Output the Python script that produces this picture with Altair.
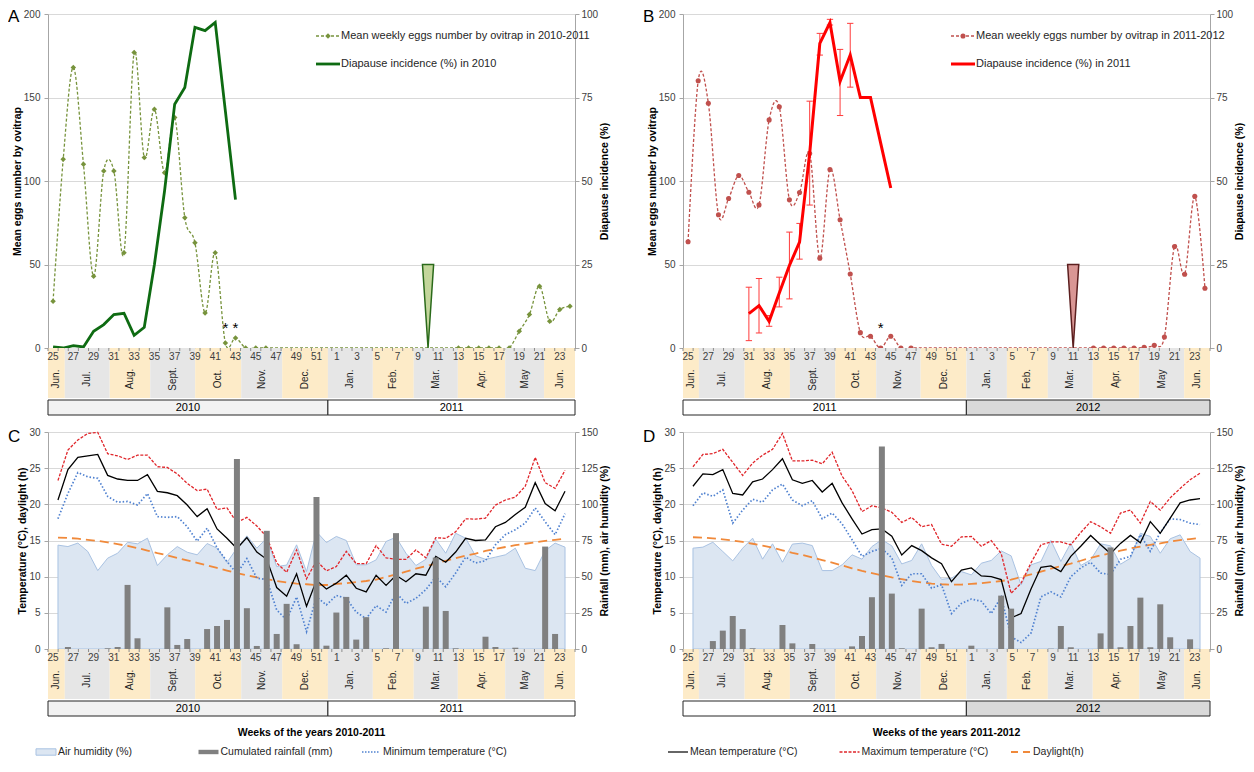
import altair as alt
import pandas as pd

FONT = "Liberation Sans"
PW = 527
H_EGG = 334
H_CLIM = 217
HGAP = 108
AXIS_GREY = "#A6A6A6"
GRID = "#D9D9D9"
MONTH_WARM = "#FDEBC8"
MONTH_GREY = "#E6E6E6"

# ---------------- shared week axis ----------------
season_weeks = list(range(25, 53)) + list(range(1, 25))
month_names = ["Jun.", "Jul.", "Aug.", "Sept.", "Oct.", "Nov.", "Dec.",
               "Jan.", "Feb.", "Mar.", "Apr.", "May", "Jun."]
month_edges_1011 = [-0.5, 1.16, 5.59, 9.59, 14.02, 18.57, 22.61, 27.12,
                    31.55, 35.59, 39.94, 44.61, 48.45, 51.5]
month_edges_1112 = [-0.5, 1.07, 5.58, 10.05, 14.52, 18.56, 22.95, 27.46,
                    31.46, 35.5, 39.93, 44.52, 48.95, 51.5]

# ---------------- panel A ----------------
eggs_1011 = [28, 113, 168, 110, 43, 106, 106, 57, 177, 114, 143, 105, 138, 78,
             63, 21, 57, 3, 6, 0, 0, 0,
             0, 0, 0, 0, 0, 0,
             0, 0, 0, 0, 0, 0, 0, 0, 0, 0, 0, 0,
             0, 0, 0, 0, 0, 0,
             10, 20, 37, 16, 23, 25]
unsampled_1011 = [47, 48, 49, 50, 51, 52, 1, 2, 3, 4, 5, 6, 7, 8, 9, 10, 11, 12]
diap_weeks_2010 = [25, 26, 27, 28, 29, 30, 31, 32, 33, 34, 35, 36, 37, 38, 39, 40, 41, 42, 43]
diap_2010 = [0.3, 0, 0.7, 0.3, 5, 7, 10, 10.4, 3.8, 6.2, 25, 47, 73, 78, 96, 95, 97.5, 71, 44.4]
spring_week_2011 = 10
spring_value_2011 = 25
asterisk_weeks_1011 = [42, 43]
asterisk_level = 12

# ---------------- panel B ----------------
eggs_1112 = [63.6, 160, 146.6, 79.8, 89.5, 103.3, 93.3, 85.7, 136.6, 144.4, 88.7,
             93.1, 116.5, 53.8, 106.9, 76.8, 44.3, 9.2, 7, 0, 7, 0, 0,
             0, 0, 0, 0, 0,
             0, 0, 0, 0, 0, 0, 0, 0, 0, 0, 0, 0,
             0, 0, 0, 0, 0, 0.4, 1.6, 6.6, 60.8, 44.2, 90.8, 35.8]
unsampled_1112 = [48, 49, 50, 51, 52, 1, 2, 3, 4, 5, 6, 7, 8, 9, 10, 11, 12]
diap_weeks_2011 = [31, 32, 33, 34, 35, 36, 37, 38, 39, 40, 41, 42, 43, 44, 45]
diap_2011 = [10.3, 12.7, 8.0, 16.5, 24.7, 31.7, 58.3, 91.2, 97.4, 79.8, 87.7, 75, 75, 61.4, 47.9]
err_weeks_2011 = [31, 32, 33, 34, 35, 36, 37, 38, 39, 40, 41]
err_lo_2011 = [2.2, 4.5, 6.5, 12.3, 14.7, 26.6, 42.8, 87.7, 96.7, 69.6, 78.1]
err_hi_2011 = [18.2, 20.8, 9.7, 21.2, 34.7, 37.3, 73.9, 94.2, 98.4, 89.4, 97.2]
spring_week_2012 = 11
spring_value_2012 = 25
asterisk_weeks_1112 = [44]

# ---------------- panel C (2010-2011 weather) ----------------
hum_1011 = [71.8, 70.8, 73.2, 67.4, 54.2, 62.8, 66.2, 73.8, 72.7, 76.6, 57.7, 65.1,
            70.8, 66.9, 65.1, 72.9, 69.7, 59.8, 69.7, 78.2, 69.7, 76.6, 57, 58, 72,
            53.5, 81, 73.6,
            77.8, 75, 58.2, 58.2, 61.6, 74.3, 77.3, 66.2, 57.7, 62, 75.9, 66.2, 80,
            76.6, 64.4, 62, 63.5, 65.1, 69.7, 55.8, 54.2, 68, 73.2, 70.4]
rain_1011 = [0, 1.4, 0, 0, 0, 0.5, 1.4, 44.3, 7.4, 0, 0, 28.8, 2.8, 6.9, 0, 13.8,
             15.9, 20.1, 131.3, 28.2, 2.1, 81.7, 10.4, 31.2, 3.3, 0, 105, 2.3,
             25.2, 36, 6.5, 22, 0, 0.5, 80.1, 0, 0, 29.3, 63.2, 26.3, 0.5, 0, 0,
             8.5, 1.4, 0, 0.9, 0, 0, 70.8, 10.4, 0]
tmin_1011 = [18, 21.5, 24.4, 23.8, 23.6, 21.1, 20.3, 20.4, 19.9, 21.5, 18.3, 18.2,
             18.3, 16.9, 14.9, 16.7, 14.0, 12.1, 10.4, 12.5, 9.8, 9.6, 5.4, 4.0, 7.2,
             2.4, 7.2, 6.1,
             7.4, 7.0, 5.1, 4.2, 6.0, 5.1, 7.8, 6.3, 7.0, 8.2, 10.0, 8.6, 10.5, 12.7,
             11.9, 12.2, 14.4, 15.8, 16.5, 17.4, 19.5, 17.6, 15.8, 18.7]
tmean_1011 = [20.6, 24.8, 26.5, 26.7, 26.9, 24, 23.5, 23.3, 23.3, 24.1, 21.8, 21.6,
              21.2, 19.9, 18.3, 19.4, 16.6, 15.3, 13.9, 15.4, 13.4, 12.4, 8.5, 7.3,
              10.4, 5.9, 9.5, 8.3,
              9.1, 10.2, 8.4, 7.9, 10.2, 8.8, 10.2, 9.3, 10.4, 10.2, 12.8, 12.0, 13.4,
              15.3, 15.0, 15.1, 16.9, 17.5, 18.6, 19.6, 23.0, 20.1, 19.1, 21.8]
tmax_1011 = [23.3, 27.5, 28.9, 29.8, 29.95, 27, 26.7, 26.2, 26.8, 26.8, 25.2, 25.1,
             24.2, 22.9, 21.9, 22.1, 19.3, 19.5, 17.5, 18.2, 17.0, 15.5, 11.9, 10.6,
             13.7, 9.7, 12.2, 10.8,
             11.4, 13.5, 11.8, 11.8, 14.3, 12.6, 12.4, 12.4, 13.7, 12.6, 15.4, 15.3,
             16.2, 18, 17.95, 18.1, 19.9, 20.6, 21, 22.5, 26.5, 23, 22.2, 24.7]
daylight_1011 = [15.4, 15.35, 15.25, 15.1, 14.95, 14.75, 14.5, 14.25, 13.95, 13.6,
                 13.25, 12.95, 12.6, 12.25, 11.9, 11.55, 11.2, 10.85, 10.5, 10.2, 9.9,
                 9.65, 9.4, 9.2, 9.05, 8.95, 8.85, 8.85,
                 9.0, 9.1, 9.25, 9.4, 9.6, 9.95, 10.3, 10.7, 11.1, 11.45, 11.8, 12.2,
                 12.55, 12.9, 13.2, 13.55, 13.85, 14.1, 14.35, 14.55, 14.75, 14.95,
                 15.1, 15.25]

# ---------------- panel D (2011-2012 weather) ----------------
hum_1112 = [69.7, 70.4, 73.8, 67.4, 60.9, 69.7, 76.6, 62.1, 72.7, 60.0, 72.5, 73.2,
            71.5, 54.2, 54.2, 58.2, 65.1, 62.1, 70.8, 75.5, 71.3, 58.8, 61.2, 72.7,
            57.7, 48.2, 48.9, 53.5,
            51.2, 59.3, 61.2, 67.8, 64.4, 44.3, 58.2, 60.5, 75, 60.5, 73.2, 57.7,
            61.6, 72.7, 71.3, 58.6, 62.8, 80, 77.8, 66.2, 76.2, 78.9, 67.4, 62.8]
rain_1112 = [0, 0, 5.5, 12.7, 22.8, 13.8, 0.5, 0, 0, 16.6, 3.9, 0, 3.5, 0, 0, 0,
             1.8, 9.0, 35.8, 140, 38.3, 0.5, 0, 27.9, 1.2, 3.5, 0, 0,
             2.3, 0, 0, 36.9, 27.9, 0, 0, 0, 0.2, 15.9, 1.2, 0, 0, 10.8, 70.2, 1.2,
             15.9, 35.5, 1.2, 30.9, 8.1, 0, 6.7, 0]
tmin_1112 = [19.8, 21.6, 21.1, 22.0, 17.4, 19.2, 20.7, 20.3, 22.0, 22.8, 20.6, 19.8,
             20.5, 18.0, 18.8, 17.3, 15.1, 12.8, 13.5, 13.9, 12.6, 8.8, 10.4, 10.4,
             8.4, 8.9, 4.9, 6.3,
             6.9, 6.6, 4.9, 7.2, 1.7, 0.9, 2.2, 7.2, 7.9, 7.2, 10.0, 11.2, 12.0, 10.5,
             10.3, 12.4, 12.8, 15.8, 13.5, 16.1, 18.0, 17.9, 17.4, 17.2]
tmean_1112 = [22.5, 24.2, 24.1, 24.8, 21.5, 21.3, 23.1, 23.5, 24.8, 26.3, 23.4, 22.9,
              23.3, 21.7, 22.9, 20.2, 18.0, 15.9, 16.5, 16.6, 15.6, 13.0, 14.3, 13.6,
              12.6, 11.8, 9.3, 10.9,
              11.2, 10.1, 10.0, 9.6, 4.3, 4.9, 8.3, 11.3, 11.5, 10.7, 12.8, 14.2, 15.7,
              14.4, 13.2, 14.6, 15.7, 14.7, 17.6, 16.0, 18.1, 20.2, 20.6, 20.8]
tmax_1112 = [25.2, 26.9, 27.0, 27.6, 25.8, 24.0, 25.7, 26.8, 27.6, 29.8, 26.0, 26.0,
             26.1, 25.6, 27.2, 23.9, 21.9, 19.0, 19.8, 19.5, 18.9, 17.5, 18.2, 16.9,
             17.2, 14.5, 14.2, 15.5,
             15.55, 14.2, 15.0, 13.2, 7.7, 9.1, 11.9, 14.4, 14.8, 14.8, 14.4, 16.1,
             17.6, 16.9, 16.0, 18.8, 19.2, 17.4, 20.4, 19.2, 20.9, 22.2, 23.4, 24.3]
daylight_1112 = [15.45, 15.4, 15.3, 15.15, 15.0, 14.8, 14.55, 14.3, 14.0, 13.65,
                 13.3, 13.0, 12.65, 12.3, 11.95, 11.55, 11.15, 10.8, 10.5, 10.2, 9.9,
                 9.65, 9.4, 9.2, 9.05, 8.95, 8.9, 8.9,
                 9.0, 9.1, 9.25, 9.4, 9.6, 9.95, 10.3, 10.7, 11.1, 11.45, 11.8, 12.2,
                 12.6, 12.95, 13.25, 13.6, 13.9, 14.15, 14.4, 14.6, 14.85, 15.05,
                 15.2, 15.35]

# ---------------- styles ----------------
HUM_FILL = "#DCE6F2"
HUM_STROKE = "#A9C2E2"
RAIN = "#808080"
TMIN = "#4F81D0"
TMAX = "#E0262B"
DAYC = "#F0893A"


def xq(field, axis=None):
    return alt.X(f"{field}:Q", scale=alt.Scale(domain=[-0.5, 51.5], nice=False, zero=False), axis=axis)


MAIN_XAXIS = alt.Axis(labels=False, ticks=False, grid=False, title=None, domainColor=AXIS_GREY)
LEFT_AX = dict(orient="left", labelPadding=4, titlePadding=1)
RIGHT_AX = dict(orient="right", labelPadding=2, titlePadding=2, titleAngle=270, titleBaseline="top")


def letter_layer(letter, dy):
    return alt.Chart(pd.DataFrame({"t": [letter]})).mark_text(
        fontSize=17, align="left", baseline="middle", color="#000000"
    ).encode(x=alt.value(-40), y=alt.value(dy), text="t:N")


def egg_panel(letter, eggs, unsampled, diap_weeks, diap_vals, spike_week, spike_val,
              aster_weeks, lab_eggs, lab_diap, egg_color, egg_shape, egg_size,
              diap_color, diap_width, spike_fill, spike_stroke, err=None):
    pos = {w: i for i, w in enumerate(season_weeks)}
    df = pd.DataFrame({"idx": list(range(52)), "week": season_weeks, "eggs": eggs})
    pts = df[~df["week"].isin(unsampled)]

    def yL(f):
        return alt.Y(f"{f}:Q", scale=alt.Scale(domain=[0, 200], nice=False),
                     axis=alt.Axis(values=[0, 50, 100, 150, 200], grid=True,
                                   title="Mean eggs number by ovitrap", **LEFT_AX))

    def yR(f):
        return alt.Y(f"{f}:Q", scale=alt.Scale(domain=[0, 100], nice=False),
                     axis=alt.Axis(values=[0, 25, 50, 75, 100], grid=False,
                                   title="Diapause incidence (%)", **RIGHT_AX))

    X = xq("idx", MAIN_XAXIS)
    eggs_line = alt.Chart(df).mark_line(interpolate="cardinal", color=egg_color,
                                        strokeDash=[3, 2], strokeWidth=1.3).encode(x=X, y=yL("eggs"))
    eggs_pts = alt.Chart(pts).mark_point(shape=egg_shape, filled=True, size=egg_size,
                                         color=egg_color, opacity=1).encode(x=X, y=yL("eggs"))
    adf = pd.DataFrame({"idx": [pos[w] for w in aster_weeks],
                        "lvl": [asterisk_level] * len(aster_weeks)})
    aster = alt.Chart(adf).mark_text(text="*", fontSize=15, color="#000000").encode(x=X, y=yL("lvl"))
    left = alt.layer(eggs_line, eggs_pts, aster)

    ddf = pd.DataFrame({"idx": [pos[w] for w in diap_weeks], "diap": diap_vals})
    diap = alt.Chart(ddf).mark_line(color=diap_color, strokeWidth=diap_width).encode(x=X, y=yR("diap"))
    si = pos[spike_week]
    sdf = pd.DataFrame({"idx": [si - 0.55, si, si + 0.55], "top": [spike_val] * 3,
                        "base": [spike_val, 0, spike_val]})
    spike = alt.Chart(sdf).mark_area(fill=spike_fill, stroke=spike_stroke, strokeWidth=1.5,
                                     opacity=1).encode(x=X, y=yR("top"), y2="base:Q")
    right_layers = [spike]
    if err is not None:
        ew, lo, hi, ecol = err
        edf = pd.DataFrame({"idx": [pos[w] for w in ew], "lo": lo, "hi": hi})
        right_layers.append(alt.Chart(edf).mark_rule(color=ecol, strokeWidth=1).encode(
            x=X, y=yR("lo"), y2="hi:Q"))
        for f in ["lo", "hi"]:
            right_layers.append(alt.Chart(edf).mark_point(shape="stroke", size=40, color=ecol,
                                                          strokeWidth=1, opacity=1).encode(x=X, y=yR(f)))
    right_layers.append(diap)
    right = alt.layer(*right_layers)

    l1 = pd.DataFrame({"t": [lab_eggs]})
    l2 = pd.DataFrame({"t": [lab_diap]})
    leg = [
        alt.Chart(l1).mark_rule(color=egg_color, strokeDash=[3, 2], strokeWidth=1.3).encode(
            x=alt.value(268), x2=alt.value(292), y=alt.value(22)),
        alt.Chart(l1).mark_point(shape=egg_shape, filled=True, size=egg_size, color=egg_color,
                                 opacity=1).encode(x=alt.value(280), y=alt.value(22)),
        alt.Chart(l1).mark_text(align="left", baseline="middle", fontSize=11, color="#262626").encode(
            x=alt.value(293), y=alt.value(22), text="t:N"),
        alt.Chart(l2).mark_rule(color=diap_color, strokeWidth=diap_width).encode(
            x=alt.value(268), x2=alt.value(292), y=alt.value(50)),
        alt.Chart(l2).mark_text(align="left", baseline="middle", fontSize=11, color="#262626").encode(
            x=alt.value(293), y=alt.value(50), text="t:N"),
    ]
    return alt.layer(left, right, *leg, letter_layer(letter, 3)).resolve_scale(
        y="independent").properties(width=PW, height=H_EGG)


def clim_panel(letter, hum, rain, tmin, tmean, tmax, daylen):
    df = pd.DataFrame({"idx": list(range(52)), "hum": hum, "rain": rain, "tmin": tmin,
                       "tmean": tmean, "tmax": tmax, "day": daylen})
    X = xq("idx", MAIN_XAXIS)

    def yT(f):
        return alt.Y(f"{f}:Q", scale=alt.Scale(domain=[0, 30], nice=False),
                     axis=alt.Axis(values=[0, 5, 10, 15, 20, 25, 30], grid=True,
                                   title="Temperature (°C), daylight (h)", **LEFT_AX))

    def yR(f, show):
        ax = alt.Axis(values=[0, 25, 50, 75, 100, 125, 150], grid=False,
                      title="Rainfall (mm), air humidity (%)", **RIGHT_AX) if show else None
        return alt.Y(f"{f}:Q", scale=alt.Scale(domain=[0, 150], nice=False), axis=ax)

    area = alt.Chart(df).mark_area(fill=HUM_FILL, stroke=HUM_STROKE, strokeWidth=1,
                                   opacity=1).encode(x=X, y=yR("hum", True))
    day = alt.Chart(df).mark_line(color=DAYC, strokeDash=[9, 5], strokeWidth=1.8).encode(x=X, y=yT("day"))
    tmn = alt.Chart(df).mark_line(color=TMIN, strokeDash=[1.5, 2], strokeWidth=1.7).encode(x=X, y=yT("tmin"))
    tmx = alt.Chart(df).mark_line(color=TMAX, strokeDash=[3, 1.5], strokeWidth=1.3).encode(x=X, y=yT("tmax"))
    tme = alt.Chart(df).mark_line(color="#000000", strokeWidth=1.3).encode(x=X, y=yT("tmean"))
    lines = alt.layer(day, tmn, tmx, tme)
    bars = alt.Chart(df).mark_bar(size=6, color=RAIN, orient="vertical").encode(x=X, y=yR("rain", False))
    return alt.layer(area, lines, bars, letter_layer(letter, 5)).resolve_scale(
        y="independent").properties(width=PW, height=H_CLIM)


def strip(edges, years, year_fills, height, title=None):
    mdf = pd.DataFrame({"m": month_names, "s": edges[:-1], "e": edges[1:]})
    mdf["mid"] = (mdf["s"] + mdf["e"]) / 2
    mdf["fill"] = [MONTH_WARM if i % 2 == 0 else MONTH_GREY for i in range(len(month_names))]
    ydf = pd.DataFrame({"y": years, "s": [edges[0], edges[7]], "e": [edges[7], edges[-1]],
                        "fill": year_fills})
    ydf["mid"] = (ydf["s"] + ydf["e"]) / 2
    wdf = pd.DataFrame({"idx": list(range(52)), "week": season_weeks})
    wdf = wdf[wdf["week"] % 2 == 1]
    tdf = pd.DataFrame({"b": [i - 0.5 for i in range(53)]})
    bands = alt.Chart(mdf).mark_rect().encode(x=xq("s"), x2="e:Q", y=alt.value(0),
                                              y2=alt.value(50), color=alt.Color("fill:N", scale=None))
    ticks = alt.Chart(tdf).mark_rule(color="#8C8C8C").encode(x=xq("b"), y=alt.value(0),
                                                              y2=alt.value(3))
    wtext = alt.Chart(wdf).mark_text(fontSize=10, color="#404040", baseline="middle").encode(
        x=xq("idx"), y=alt.value(9), text="week:N")
    mtext = alt.Chart(mdf).mark_text(angle=270, fontSize=10, color="#262626", baseline="middle").encode(
        x=xq("mid"), y=alt.value(31), text="m:N")
    yboxes = alt.Chart(ydf).mark_rect(stroke="#262626", strokeWidth=1).encode(
        x=xq("s"), x2="e:Q", y=alt.value(52), y2=alt.value(67),
        color=alt.Color("fill:N", scale=None))
    ytext = alt.Chart(ydf).mark_text(fontSize=11, color="#000000", baseline="middle").encode(
        x=xq("mid"), y=alt.value(59.5), text="y:N")
    layers = [bands, ticks, wtext, mtext, yboxes, ytext]
    if title:
        layers.append(alt.Chart(pd.DataFrame({"t": [title]})).mark_text(
            fontSize=10.5, fontWeight="bold", color="#000000", baseline="middle").encode(
            x=alt.value(PW / 2), y=alt.value(84), text="t:N"))
    return alt.layer(*layers).properties(width=PW, height=height)


def bottom_legend(items, styles, xrange):
    ldf = pd.DataFrame({"item": items})
    X = alt.X("item:N", scale=alt.Scale(type="point", domain=items, range=xrange, padding=0),
              axis=None)
    layers = []
    for item, st in zip(items, styles):
        layers.append(alt.Chart(ldf).transform_filter(alt.datum.item == item).mark_point(
            xOffset=11, opacity=1, **st).encode(x=X, y=alt.value(6)))
    layers.append(alt.Chart(ldf).mark_text(align="left", baseline="middle", dx=23, fontSize=10.5,
                                           color="#262626").encode(x=X, y=alt.value(6), text="item:N"))
    return alt.layer(*layers).properties(width=PW, height=12)


RECT_SHAPE = "M-1,-0.32H1V0.32H-1Z"
BAR_SHAPE = "M-1,-0.22H1V0.22H-1Z"
LINE_SHAPE = "M-1,0H1"

panelA = egg_panel("A", eggs_1011, unsampled_1011, diap_weeks_2010, diap_2010,
                   spring_week_2011, spring_value_2011, asterisk_weeks_1011,
                   "Mean weekly eggs number by ovitrap in 2010-2011", "Diapause incidence (%) in 2010",
                   "#77933C", "diamond", 30, "#0E6B12", 2.8, "#C3D69B", "#2A6A1A")
panelB = egg_panel("B", eggs_1112, unsampled_1112, diap_weeks_2011, diap_2011,
                   spring_week_2012, spring_value_2012, asterisk_weeks_1112,
                   "Mean weekly eggs number by ovitrap in 2011-2012", "Diapause incidence (%) in 2011",
                   "#C0504D", "circle", 26, "#FF0000", 3, "#D99694", "#5C1F1F",
                   err=(err_weeks_2011, err_lo_2011, err_hi_2011, "#FF3B3B"))
panelC = clim_panel("C", hum_1011, rain_1011, tmin_1011, tmean_1011, tmax_1011, daylight_1011)
panelD = clim_panel("D", hum_1112, rain_1112, tmin_1112, tmean_1112, tmax_1112, daylight_1112)

# strip heights include the gap to the next row
stripA = strip(month_edges_1011, ["2010", "2011"], ["#F2F2F2", "#FFFFFF"], 84)
stripB = strip(month_edges_1112, ["2011", "2012"], ["#FFFFFF", "#D9D9D9"], 84)
stripC = strip(month_edges_1011, ["2010", "2011"], ["#F2F2F2", "#FFFFFF"], 97, "Weeks of the years 2010-2011")
stripD = strip(month_edges_1112, ["2011", "2012"], ["#FFFFFF", "#D9D9D9"], 97, "Weeks of the years 2011-2012")

legC = bottom_legend(
    ["Air humidity (%)", "Cumulated rainfall (mm)", "Minimum temperature (°C)"],
    [dict(shape=RECT_SHAPE, size=400, filled=True, fill=HUM_FILL, stroke=HUM_STROKE, strokeWidth=1),
     dict(shape=BAR_SHAPE, size=400, filled=True, color=RAIN),
     dict(shape=LINE_SHAPE, size=324, filled=False, color=TMIN, strokeDash=[1.5, 1.5], strokeWidth=1.6)],
    [-13, 312])
legD = bottom_legend(
    ["Mean temperature (°C)", "Maximum temperature (°C)", "Daylight(h)"],
    [dict(shape=LINE_SHAPE, size=400, filled=False, color="#404040", strokeWidth=1.6),
     dict(shape=LINE_SHAPE, size=400, filled=False, color=TMAX, strokeDash=[3, 1.5], strokeWidth=1.4),
     dict(shape=LINE_SHAPE, size=400, filled=False, color=DAYC, strokeDash=[7, 5], strokeWidth=2)],
    [-16, 327])

chart = alt.concat(
    panelA, panelB, stripA, stripB, panelC, panelD, stripC, stripD, legC, legD,
    columns=2, spacing={"row": 0, "column": HGAP}, bounds="flush"
).properties(
    padding={"left": 0, "top": 0, "right": 0, "bottom": 0}
).configure(font=FONT).configure_view(strokeWidth=0).configure_axis(
    labelFont=FONT, titleFont=FONT, labelFontSize=10, titleFontSize=10.5,
    labelColor="#404040", titleColor="#000000", titleFontWeight="bold",
    domainColor=AXIS_GREY, tickColor=AXIS_GREY, gridColor=GRID, tickSize=4)

chart.save("out.html", embed_options={"renderer": "svg", "actions": False})
